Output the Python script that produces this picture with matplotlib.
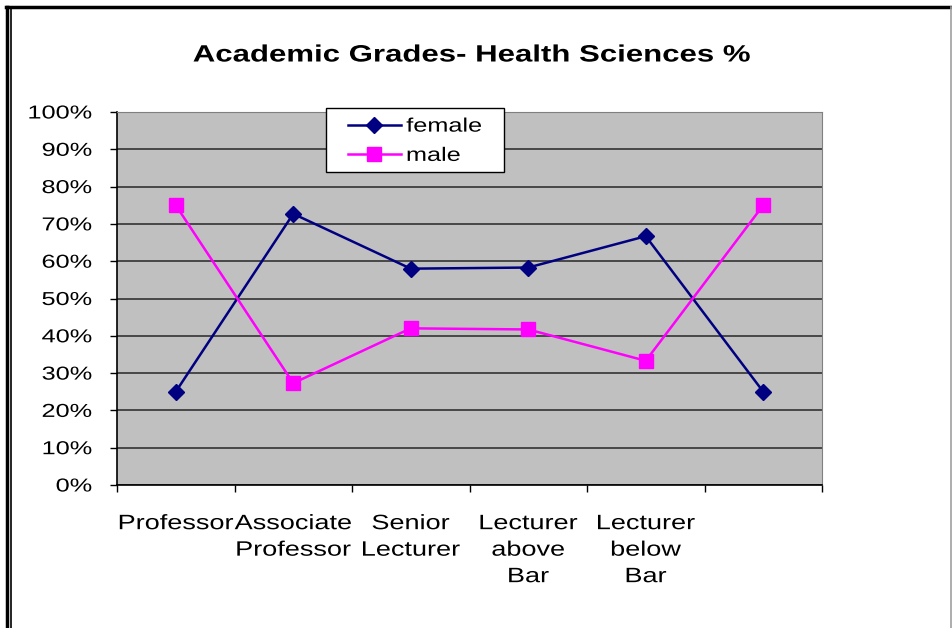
import matplotlib
matplotlib.use("Agg")
import matplotlib.pyplot as plt
from matplotlib.lines import Line2D
from matplotlib.patches import Rectangle
from matplotlib.path import Path
from matplotlib.patheffects import AbstractPathEffect
from matplotlib.transforms import IdentityTransform
from matplotlib.ticker import FixedLocator, PercentFormatter

plt.rcParams['font.family'] = ['Liberation Sans', 'DejaVu Sans']

grades = ['Professor', 'Associate\nProfessor', 'Senior\nLecturer',
          'Lecturer\nabove\nBar', 'Lecturer\nbelow\nBar', '']
female = [25.0, 72.7, 58.0, 58.3, 66.7, 25.0]
male = [75.0, 27.3, 42.0, 41.7, 33.3, 75.0]
yticks = list(range(0, 101, 10))


class Widen(AbstractPathEffect):
    # the source image text is stretched sideways; do the same to the glyph paths
    def __init__(self, sx, anchor='center'):
        super().__init__()
        self.sx = sx
        self.anchor = anchor

    def draw_path(self, renderer, gc, tpath, affine, rgbFace=None):
        if len(tpath.vertices) == 0:
            return
        v = affine.transform(tpath.vertices)
        ext = tpath.get_extents(affine)
        if self.anchor == 'left':
            x0 = ext.x0
        elif self.anchor == 'right':
            x0 = ext.x1
        else:
            x0 = (ext.x0 + ext.x1) / 2
        v[:, 0] = x0 + (v[:, 0] - x0) * self.sx
        renderer.draw_path(gc, Path(v, tpath.codes), IdentityTransform(), rgbFace)


fig = plt.figure(figsize=(9.52, 6.28), dpi=100)
ax = fig.add_axes([117/952, 1 - 485/628, (822 - 117)/952, (485 - 112)/628])
ax.set_facecolor('#c0c0c0')

x = range(len(grades))
ax.plot(x, female, color='#000080', lw=1.8, marker='D', ms=8.5, label='female')
ax.plot(x, male, color='#ff00ff', lw=1.8, marker='s', ms=10.5, label='male')

ax.set_xlim(-0.5, len(grades) - 0.5)
ax.set_ylim(0, 100)
ax.set_yticks(yticks)
ax.yaxis.set_major_formatter(PercentFormatter(decimals=0))
ax.yaxis.grid(True, color='#333333', lw=1.2)
ax.set_axisbelow(True)

ax.set_xticks(list(x))
ax.set_xticklabels(grades, fontsize=15, linespacing=1.5)
ax.xaxis.set_minor_locator(FixedLocator([i - 0.5 for i in range(len(grades) + 1)]))
ax.tick_params(axis='x', which='major', length=0, pad=21)
ax.tick_params(axis='x', which='minor', length=5, width=1, color='black')
ax.tick_params(axis='y', length=5, width=1, labelsize=13.5, pad=13)

for s in ['top', 'right']:
    ax.spines[s].set_color('#808080')
ax.spines['left'].set_color('black')
ax.spines['bottom'].set_color('black')
ax.spines['left'].set_linewidth(1.2)
ax.spines['bottom'].set_linewidth(1.2)

for lab in ax.get_xticklabels():
    lab.set_path_effects([Widen(1.3)])
for lab in ax.get_yticklabels():
    lab.set_path_effects([Widen(1.35, 'right')])

title = fig.text(472/952, 1 - 55/628, 'Academic Grades- Health Sciences %',
                 ha='center', va='center', fontsize=17, fontweight='bold')
title.set_path_effects([Widen(1.32)])

# legend box drawn separately so the entries can sit where they do in the source
ax.add_artist(Rectangle((326/952, 1 - 172/628), 178/952, 64/628,
                        transform=fig.transFigure, facecolor='white',
                        edgecolor='black', lw=1, zorder=4.9, clip_on=False))
leg = ax.legend(loc='upper left', bbox_to_anchor=(348/952, 1 - 118/628),
                bbox_transform=fig.transFigure, borderaxespad=0, borderpad=0,
                fontsize=14, frameon=False, handlelength=2.7,
                labelspacing=0.6, handletextpad=0.3)
for t in leg.get_texts():
    t.set_path_effects([Widen(1.3, 'left')])

# page frame
fig.add_artist(Line2D([6/952, 1], [1 - 7/628] * 2, transform=fig.transFigure, color='black', lw=2.5))
fig.add_artist(Line2D([7/952] * 2, [0, 1 - 7/628], transform=fig.transFigure, color='black', lw=2.5))
fig.add_artist(Line2D([10.5/952] * 2, [0, 1 - 7/628], transform=fig.transFigure, color='black', lw=1.2))
fig.add_artist(Line2D([950.5/952] * 2, [0, 1 - 7/628], transform=fig.transFigure, color='#a0a0a0', lw=1.2))

fig.savefig('out.png', dpi=100)
